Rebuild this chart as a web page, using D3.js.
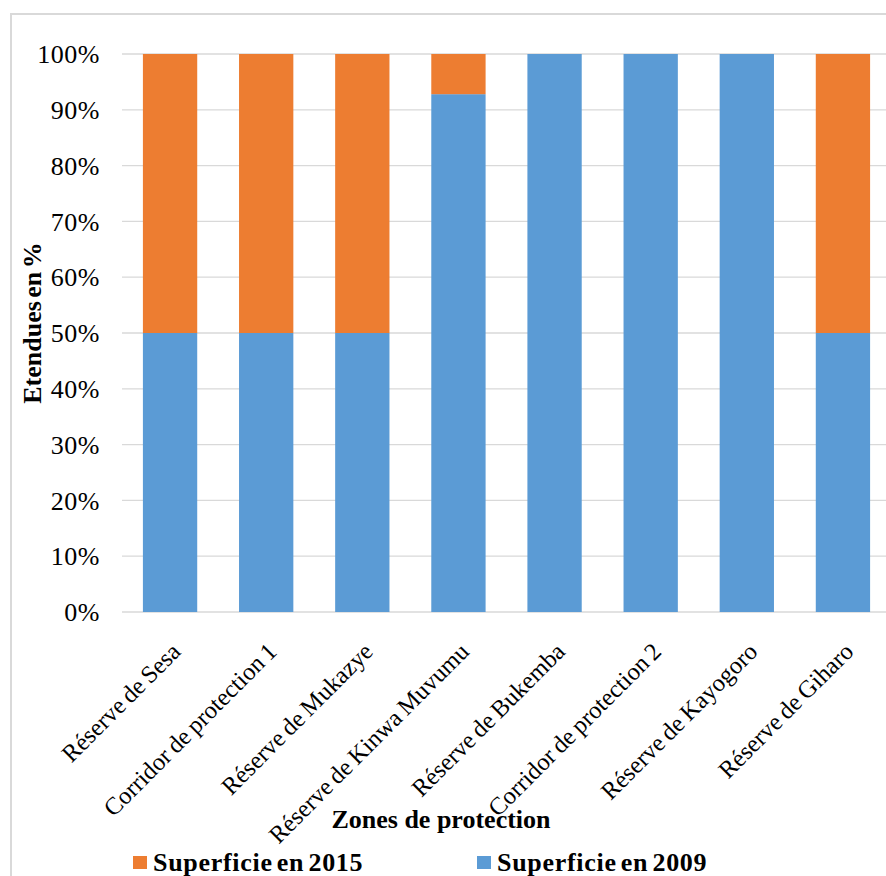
<!DOCTYPE html>
<html><head><meta charset="utf-8">
<script src="https://cdn.jsdelivr.net/npm/d3@7"></script>
<style>body{margin:0;background:#fff}svg{display:block}text{font-family:"Liberation Serif","Times New Roman",serif}</style>
</head><body>
<svg id="c" width="886" height="876"></svg>
<script>
const categories = ["Réserve de Sesa","Corridor de protection 1","Réserve de Mukazye","Réserve de Kinwa Muvumu","Réserve de Bukemba","Corridor de protection 2","Réserve de Kayogoro","Réserve de Giharo"];
const sup2009 = [50, 50, 50, 92.8, 100, 100, 100, 50];
const sup2015 = [50, 50, 50, 7.2, 0, 0, 0, 50];
const yTicks = [0,10,20,30,40,50,60,70,80,90,100];
const seriesNames = ["Superficie en 2015","Superficie en 2009"];
const colors = {s2009:"#5b9bd5", s2015:"#ed7d31"};

const svg = d3.select("#c");
svg.append("rect").attr("x",11).attr("y",14).attr("width",890).attr("height",880)
  .attr("fill","none").attr("stroke","#d9d9d9").attr("stroke-width",2);

const x = d3.scaleBand().domain(categories).range([122, 891]).paddingInner(0.435).paddingOuter(0.2175);
const y = d3.scaleLinear().domain([0,100]).range([612, 54]);

svg.append("g").selectAll("line").data(yTicks).join("line")
  .attr("x1",122).attr("x2",886).attr("y1",d=>y(d)).attr("y2",d=>y(d))
  .attr("stroke","#d9d9d9").attr("stroke-width",1.3);

svg.append("g").selectAll("text").data(yTicks).join("text")
  .attr("x",100).attr("y",d=>y(d)).attr("dy","0.35em").attr("text-anchor","end")
  .attr("font-size",26).attr("letter-spacing",0.5).attr("fill","#000").text(d=>d+"%");

const stack = categories.map((c,i)=>({c, a:sup2009[i], b:sup2015[i]}));
const g = svg.append("g");
g.selectAll("rect.b").data(stack).join("rect").attr("class","b")
  .attr("x",d=>x(d.c)).attr("width",x.bandwidth())
  .attr("y",d=>y(d.a)).attr("height",d=>y(0)-y(d.a)).attr("fill",colors.s2009);
g.selectAll("rect.o").data(stack.filter(d=>d.b>0)).join("rect").attr("class","o")
  .attr("x",d=>x(d.c)).attr("width",x.bandwidth())
  .attr("y",d=>y(d.a+d.b)).attr("height",d=>y(d.a)-y(d.a+d.b)).attr("fill",colors.s2015);

svg.append("g").selectAll("text").data(categories).join("text")
  .attr("transform",d=>`translate(${x(d)+x.bandwidth()/2+12},${653}) rotate(-45)`)
  .attr("text-anchor","end").attr("font-size",24.5).attr("word-spacing",-1.5).attr("fill","#000").text(d=>d);

svg.append("text").attr("transform","translate(41,323) rotate(-90)").attr("text-anchor","middle")
  .attr("font-size",26).attr("font-weight","bold").attr("word-spacing",-3).text("Etendues en %");
svg.append("text").attr("x",441).attr("y",828).attr("text-anchor","middle")
  .attr("font-size",26).attr("font-weight","bold").text("Zones de protection");

const leg = [{n:seriesNames[0],c:colors.s2015,x:133},{n:seriesNames[1],c:colors.s2009,x:477}];
const lg = svg.append("g").selectAll("g").data(leg).join("g").attr("transform",d=>`translate(${d.x},0)`);
lg.append("rect").attr("x",0).attr("y",856).attr("width",14).attr("height",13).attr("fill",d=>d.c);
lg.append("text").attr("x",20).attr("y",871).attr("font-size",26).attr("font-weight","bold").attr("letter-spacing",0.7).attr("word-spacing",-3).text(d=>d.n);
</script>
</body></html>
